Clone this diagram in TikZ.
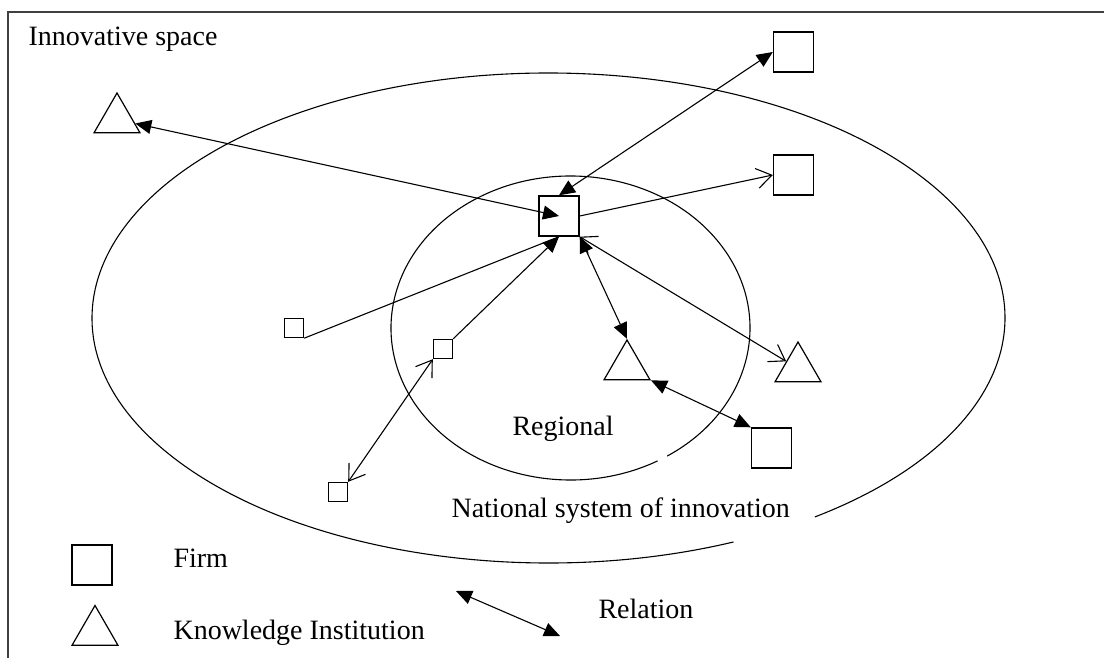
\documentclass[tikz,border=0pt]{standalone}
\usepackage{fontspec}
\setmainfont{Liberation Serif}
\usetikzlibrary{arrows.meta,shapes.geometric}

\begin{document}
\begin{tikzpicture}[x=1pt,y=-1pt,line width=1.1pt,
		font=\fontsize{28}{33}\selectfont,
		firm/.style={draw,rectangle,minimum size=40pt,inner sep=0pt,line width=1.4pt},
		smallfirm/.style={draw,rectangle,minimum size=19pt,inner sep=0pt,line width=1.4pt},
		inst/.style={draw,regular polygon,regular polygon sides=3,minimum size=53pt,inner sep=0pt,line width=1.2pt},
		lbl/.style={anchor=base west,inner sep=0pt},
		rel/.style={{Triangle[length=16pt,width=14pt]}-{Triangle[length=16pt,width=14pt]}},
		fil/.style={-{Triangle[length=16pt,width=14pt]}},
		opn/.style={-{Straight Barb[length=15pt,width=20pt]}},
		opnboth/.style={{Straight Barb[length=15pt,width=20pt]}-{Straight Barb[length=15pt,width=20pt]}}]
		\useasboundingbox (0,0) rectangle (1104,658);
		\draw[line width=2pt,black!75] (8,658) -- (8,12) -- (1104,12);
		% national and regional systems
		\draw (548.5,318) ++(-54.3:456.5pt and 245pt) arc[start angle=-54.3,end angle=293.9,x radius=456.5pt,y radius=245pt];
		\draw (570.5,328) ++(-57.4:179.5pt and 152pt) arc[start angle=-57.4,end angle=299,x radius=179.5pt,y radius=152pt];
		\node[lbl] (space) at (28,46) {Innovative space};
		\node[lbl] (reg) at (512,435) {Regional};
		\node[lbl] (nsi) at (451,517) {National system of innovation};
		% firms and institutions
		\node[firm] (cent) at (559,216) {};
		\node[firm] (ftop) at (793.5,52) {};
		\node[firm] (fright) at (793.5,175) {};
		\node[firm] (fbot) at (771.5,448) {};
		\node[smallfirm] (sl) at (294,328) {};
		\node[smallfirm] (sm) at (443,349) {};
		\node[smallfirm] (sb) at (338,492) {};
		\node[inst] (tl) at (117,119.5) {};
		\node[inst] (tm) at (627,366.5) {};
		\node[inst] (kir) at (798,368.5) {};
		% relations
		\draw[rel] (tl) -- (cent.center);
		\draw[rel] (cent.north) -- (ftop.west);
		\draw[opn] (cent.east) -- (fright.west);
		\draw (sl.south east) -- (cent.south);
		\draw[fil] (sm.north east) -- (cent.south);
		\draw[opnboth] (sb.north east) -- (sm.south west);
		\draw[rel] (cent.south east) -- (tm.corner 1);
		\draw[opnboth] (cent.south east) -- (kir);
		\draw[rel] (tm.corner 3) -- (fbot.north west);
		% legend
		\node[firm] (legfirm) at (92,565) {};
		\node[inst] (leginst) at (95,632) {};
		\node[lbl] (tfirm) at (173,567) {Firm};
		\node[lbl] (tinst) at (173,639) {Knowledge Institution};
		\coordinate (rela) at (456,591);
		\coordinate (relb) at (560,636);
		\draw[rel] (rela) -- (relb);
		\node[lbl] (trel) at (598,618) {Relation};
\end{tikzpicture}
\end{document}
